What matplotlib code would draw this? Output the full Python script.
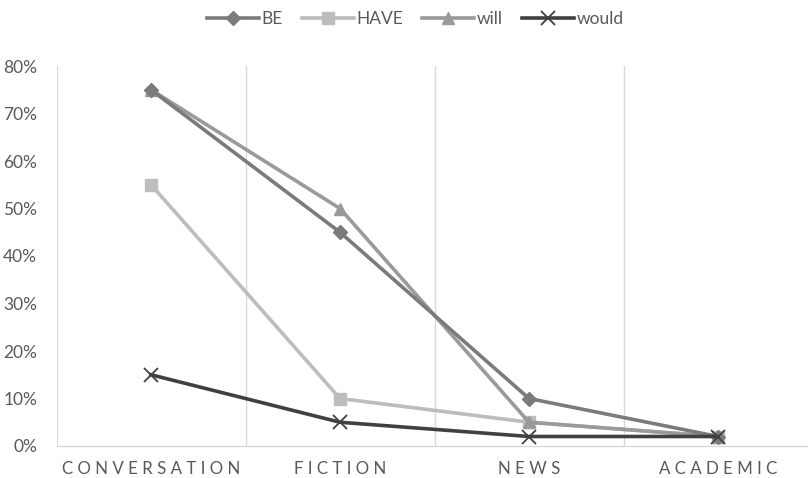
import matplotlib.pyplot as plt
from matplotlib.ticker import FuncFormatter

categories = ['CONVERSATION', 'FICTION', 'NEWS', 'ACADEMIC']
be_vals = [75, 45, 10, 2]
have_vals = [55, 10, 5, 2]
will_vals = [75, 50, 5, 2]
would_vals = [15, 5, 2, 2]

plt.rcParams['font.family'] = ['Lato', 'DejaVu Sans']

fig = plt.figure(figsize=(8.08, 4.78), dpi=100)
ax = fig.add_axes([56.5 / 808, 32 / 478, 756 / 808, 380 / 478])

x = range(1, len(categories) + 1)
lw = 2.6
ax.plot(x, be_vals, color='#7b7b7b', lw=lw, marker='D', ms=7, label='BE', zorder=4)
ax.plot(x, have_vals, color='#bdbdbd', lw=lw, marker='s', ms=8, label='HAVE', zorder=3)
ax.plot(x, will_vals, color='#9a9a9a', lw=lw, marker='^', ms=9, label='will', zorder=3)
ax.plot(x, would_vals, color='#404040', lw=lw, marker='x', ms=10, mew=1.3,
        label='would', zorder=5)

ax.set_xlim(0.5, 4.5)
ax.set_ylim(0, 80)
ax.set_yticks(range(0, 81, 10))
ax.yaxis.set_major_formatter(FuncFormatter(lambda v, p: f'{v:.0f}%'))

# letter-spaced category labels, like the original
spaced = [' '.join(c) for c in categories]
ax.set_xticks(list(x))
ax.set_xticklabels(spaced)
ax.set_xticks([0.5, 1.5, 2.5, 3.5, 4.5], minor=True)
ax.grid(True, which='minor', axis='x', color='#d9d9d9', lw=1)
ax.grid(False, which='major')

for s in ['top', 'right', 'left']:
    ax.spines[s].set_visible(False)
ax.spines['bottom'].set_color('#d9d9d9')
ax.spines['bottom'].set_linewidth(1)

ax.tick_params(axis='both', which='both', length=0, colors='#595959')
ax.tick_params(axis='y', labelsize=12.5, pad=14)
ax.tick_params(axis='x', labelsize=12.2, pad=11)

leg = fig.legend(loc='upper center', bbox_to_anchor=(0.514, 1.01), ncol=4, frameon=False,
                 fontsize=12.5, handlelength=3, handletextpad=0.15, columnspacing=1.1,
                 labelcolor='#595959')

fig.savefig('out.png', dpi=100)
